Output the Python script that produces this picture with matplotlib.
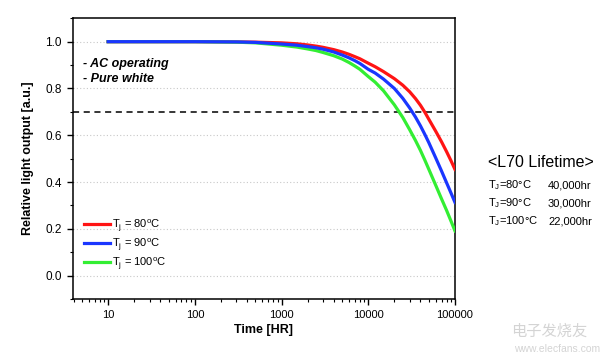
import matplotlib
matplotlib.use("Agg")
import matplotlib.pyplot as plt
from matplotlib.ticker import LogLocator, MultipleLocator, FixedLocator

plt.rcParams["font.family"] = ["Liberation Sans", "DejaVu Sans"]

# lumen maintenance
time_hr = [10, 100, 300, 500, 1000, 1500, 2000, 2500, 3000, 4000, 5000, 6000,
           7000, 8000, 10000, 12000, 15000, 20000, 25000, 30000, 35000, 40000,
           45000, 50000, 60000, 70000, 80000, 90000, 100000]
out_80 = [1.0, 1.0, 0.999, 0.998, 0.995, 0.991, 0.986, 0.981, 0.976, 0.966,
          0.956, 0.946, 0.936, 0.927, 0.908, 0.893, 0.872, 0.842, 0.814, 0.786,
          0.757, 0.728, 0.698, 0.668, 0.617, 0.572, 0.530, 0.491, 0.454]
out_90 = [1.0, 1.0, 0.999, 0.997, 0.990, 0.985, 0.979, 0.974, 0.968, 0.956,
          0.943, 0.931, 0.919, 0.907, 0.882, 0.866, 0.840, 0.800, 0.758, 0.717,
          0.678, 0.640, 0.603, 0.568, 0.503, 0.447, 0.397, 0.353, 0.313]
out_100 = [1.0, 1.0, 0.998, 0.995, 0.985, 0.977, 0.969, 0.962, 0.954, 0.940,
           0.926, 0.911, 0.896, 0.882, 0.851, 0.827, 0.790, 0.730, 0.676, 0.624,
           0.578, 0.535, 0.493, 0.454, 0.386, 0.328, 0.279, 0.233, 0.191]
l70_level = 0.7

lifetime_temps = ["80°C", "90°C", "100°C"]
lifetime_hours = ["40,000hr", "30,000hr", "22,000hr"]

fig = plt.figure(figsize=(6.15, 3.63), dpi=100)
ax = fig.add_axes([0.1182, 0.1763, 0.6216, 0.7733])

lw = 2.3
h80, = ax.plot(time_hr, out_80, color="#ff1414", lw=lw, zorder=3,
               label=r"T$_\mathregular{j}$ = 80$^\mathregular{o}$C")
h100, = ax.plot(time_hr, out_100, color="#33ee33", lw=lw, zorder=3,
                label=r"T$_\mathregular{j}$ = 100$^\mathregular{o}$C")
h90, = ax.plot(time_hr, out_90, color="#1a36ff", lw=lw, zorder=4,
               label=r"T$_\mathregular{j}$ = 90$^\mathregular{o}$C")
ax.axhline(l70_level, color="black", lw=1.1, ls=(0, (4, 3)), zorder=2)

ax.set_xscale("log")
ax.set_xlim(3.9, 1e5)
ax.set_ylim(-0.1, 1.1)
ax.xaxis.set_major_locator(FixedLocator([10, 100, 1000, 10000, 100000]))
ax.xaxis.set_minor_locator(LogLocator(base=10, subs=range(2, 10), numticks=20))
ax.set_xticklabels(["10", "100", "1000", "10000", "100000"])
ax.yaxis.set_minor_locator(MultipleLocator(0.1))
ax.set_yticks([0.0, 0.2, 0.4, 0.6, 0.8, 1.0])
ax.set_yticklabels(["0.0", "0.2", "0.4", "0.6", "0.8", "1.0"])
ax.tick_params(axis="both", which="major", direction="out", length=4, width=1,
               labelsize=8, pad=4)
ax.tick_params(axis="y", which="major", labelsize=8.5)
ax.tick_params(axis="both", which="minor", direction="out", length=2, width=0.8)
ax.yaxis.grid(True, which="major", color="#c8c8c8", ls=(0, (1, 2)), lw=0.8)
for sp in ax.spines.values():
    sp.set_linewidth(1.1)

ax.set_xlabel("Time [HR]", fontsize=9, fontweight="bold", labelpad=3)
ax.set_ylabel("Relative light output [a.u.]", fontsize=9, fontweight="bold",
              labelpad=8)

ax.text(0.027, 0.836, "- AC operating", transform=ax.transAxes, fontsize=9,
        fontweight="bold", fontstyle="italic", va="center")
ax.text(0.027, 0.783, "- Pure white", transform=ax.transAxes, fontsize=9,
        fontweight="bold", fontstyle="italic", va="center")

ax.legend(handles=[h80, h90, h100], loc="lower left", bbox_to_anchor=(0.01, 0.07),
          frameon=False, fontsize=8, handlelength=2.3, handletextpad=0.15,
          labelspacing=0.2, borderaxespad=0.3)

# L70 lifetime summary on the right
fig.text(541 / 615, 1 - 162 / 363, "<L70 Lifetime>", fontsize=11.5,
         ha="center", va="center")
row_y = [185, 203, 221]
for temp, hours, y in zip(lifetime_temps, lifetime_hours, row_y):
    fig.text(488 / 615, 1 - y / 363, r"T$_\mathregular{J}$=" + temp, fontsize=8,
             va="center")
    fig.text(548 / 615, 1 - y / 363, hours, fontsize=8, va="center")

# faint watermark
fig.text(549 / 615, 1 - 331 / 363, "电子发烧友", fontsize=11, color="#d4d4d4",
         ha="center", va="center", family=["Noto Sans CJK SC", "DejaVu Sans"])
fig.text(557 / 615, 1 - 349 / 363, "www.elecfans.com", fontsize=7.5,
         color="#d4d4d4", ha="center", va="center")

fig.savefig("out.png", dpi=100)
